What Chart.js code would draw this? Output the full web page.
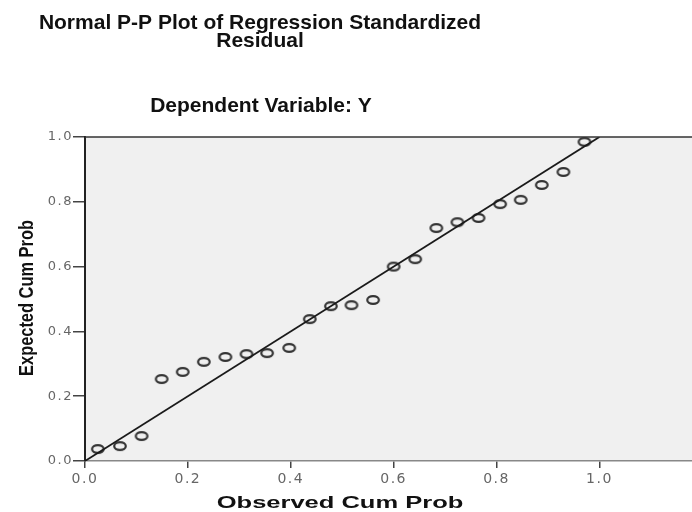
<!DOCTYPE html>
<html>
<head>
<meta charset="utf-8">
<title>Normal P-P Plot</title>
<script src="https://cdn.jsdelivr.net/npm/chart.js@4"></script>
<style>
  html, body { margin: 0; padding: 0; background: #fff; }
  #wrap { width: 692px; height: 512px; }
</style>
</head>
<body>
<div id="wrap"><canvas id="ppChart" width="692" height="512"></canvas></div>
<script>
const titleLines = ["Normal P-P Plot of Regression Standardized", "Residual"];
const subTitle = "Dependent Variable: Y";
const xTitle = "Observed Cum Prob";
const yTitle = "Expected Cum Prob";

const tickValues = [0, 0.2, 0.4, 0.6, 0.8, 1.0];

const observed = [0.025, 0.068, 0.110, 0.149, 0.190, 0.231, 0.273, 0.314, 0.354, 0.397, 0.437, 0.478,
                  0.518, 0.560, 0.600, 0.642, 0.683, 0.724, 0.765, 0.807, 0.847, 0.888, 0.930, 0.971];
const expected = [0.037, 0.046, 0.077, 0.253, 0.275, 0.306, 0.321, 0.330, 0.333, 0.349, 0.438, 0.478,
                  0.481, 0.497, 0.600, 0.623, 0.719, 0.737, 0.750, 0.793, 0.806, 0.852, 0.892, 0.985];

const refLineX = [0, 1];
const refLineY = [0, 1];

// spss draws its markers a bit squashed, so use an ellipse image
function ellipseMarker() {
  const c = document.createElement("canvas");
  c.width = 16;
  c.height = 12;
  const g = c.getContext("2d");
  g.strokeStyle = "#333";
  g.lineWidth = 2.2;
  g.beginPath();
  g.ellipse(8, 6, 5.8, 3.9, 0, 0, Math.PI * 2);
  g.stroke();
  return c;
}

function keepTicks(scale) {
  scale.ticks = tickValues.map(v => ({ value: v }));
}

const tickFmt = v => Number(v).toFixed(1);

const frame = {
  id: "frame",
  beforeDraw(chart) {
    const { ctx, chartArea: a } = chart;
    ctx.save();
    ctx.fillStyle = "#f0f0f0";
    ctx.fillRect(a.left, a.top, a.right - a.left, a.bottom - a.top);
    ctx.restore();
    // the export has wide tick numbers
    ctx.letterSpacing = "1.5px";
  },
  beforeDatasetsDraw(chart) {
    chart.ctx.letterSpacing = "0px";
  },
  afterDraw(chart) {
    const { ctx, chartArea: a } = chart;
    ctx.save();
    ctx.letterSpacing = "0px";
    ctx.strokeStyle = "#333";
    ctx.lineWidth = 1.5;
    ctx.beginPath();
    ctx.moveTo(a.left, a.top);
    ctx.lineTo(a.right, a.top);
    ctx.stroke();

    ctx.fillStyle = "#111";
    ctx.textAlign = "center";
    ctx.textBaseline = "alphabetic";
    ctx.font = "bold 21px 'Liberation Sans', Arial, sans-serif";
    ctx.fillText(titleLines[0], 260, 29);
    ctx.fillText(titleLines[1], 260, 47);
    ctx.fillText(subTitle, 261, 112);

    // x title, stretched wide like the original export
    ctx.save();
    ctx.translate(340, 508);
    ctx.scale(1.5, 1);
    ctx.font = "bold 17px 'Liberation Sans', Arial, sans-serif";
    ctx.fillText(xTitle, 0, 0);
    ctx.restore();

    // y title, condensed
    ctx.save();
    ctx.translate(33, 298);
    ctx.rotate(-Math.PI / 2);
    ctx.scale(0.82, 1);
    ctx.font = "bold 20px 'Liberation Sans', Arial, sans-serif";
    ctx.fillText(yTitle, 0, 0);
    ctx.restore();
    ctx.restore();
  }
};

new Chart(document.getElementById("ppChart"), {
  type: "scatter",
  data: {
    datasets: [
      {
        type: "line",
        label: "reference",
        data: refLineX.map((x, i) => ({ x, y: refLineY[i] })),
        borderColor: "#1a1a1a",
        borderWidth: 1.8,
        pointRadius: 0,
        fill: false
      },
      {
        label: "residuals",
        data: observed.map((x, i) => ({ x, y: expected[i] })),
        pointStyle: ellipseMarker(),
        pointRadius: 6
      }
    ]
  },
  options: {
    responsive: false,
    animation: false,
    layout: { autoPadding: false, padding: { top: 137, left: 0, right: 0, bottom: 0 } },
    plugins: {
      legend: { display: false },
      tooltip: { enabled: false }
    },
    scales: {
      x: {
        type: "linear",
        min: 0,
        max: 1.18,
        afterBuildTicks: keepTicks,
        afterFit: s => { s.height = 51; s.paddingLeft = 0; s.paddingRight = 0; },
        grid: { drawOnChartArea: false, drawTicks: true, tickLength: 7, color: "#444", lineWidth: 1.5 },
        border: { display: true, color: "#888", width: 1.5 },
        ticks: {
          padding: 3,
          color: "#666",
          font: { family: "'DejaVu Sans', sans-serif", size: 14 },
          callback: tickFmt
        }
      },
      y: {
        type: "linear",
        min: 0,
        max: 1,
        afterBuildTicks: keepTicks,
        afterFit: s => { s.width = 85; },
        grid: { drawOnChartArea: false, drawTicks: true, tickLength: 12, color: "#444", lineWidth: 1.5 },
        border: { display: true, color: "#222", width: 2 },
        ticks: {
          padding: 0,
          color: "#666",
          font: { family: "'DejaVu Sans', sans-serif", size: 13 },
          callback: tickFmt
        }
      }
    }
  },
  plugins: [frame]
});
</script>
</body>
</html>
